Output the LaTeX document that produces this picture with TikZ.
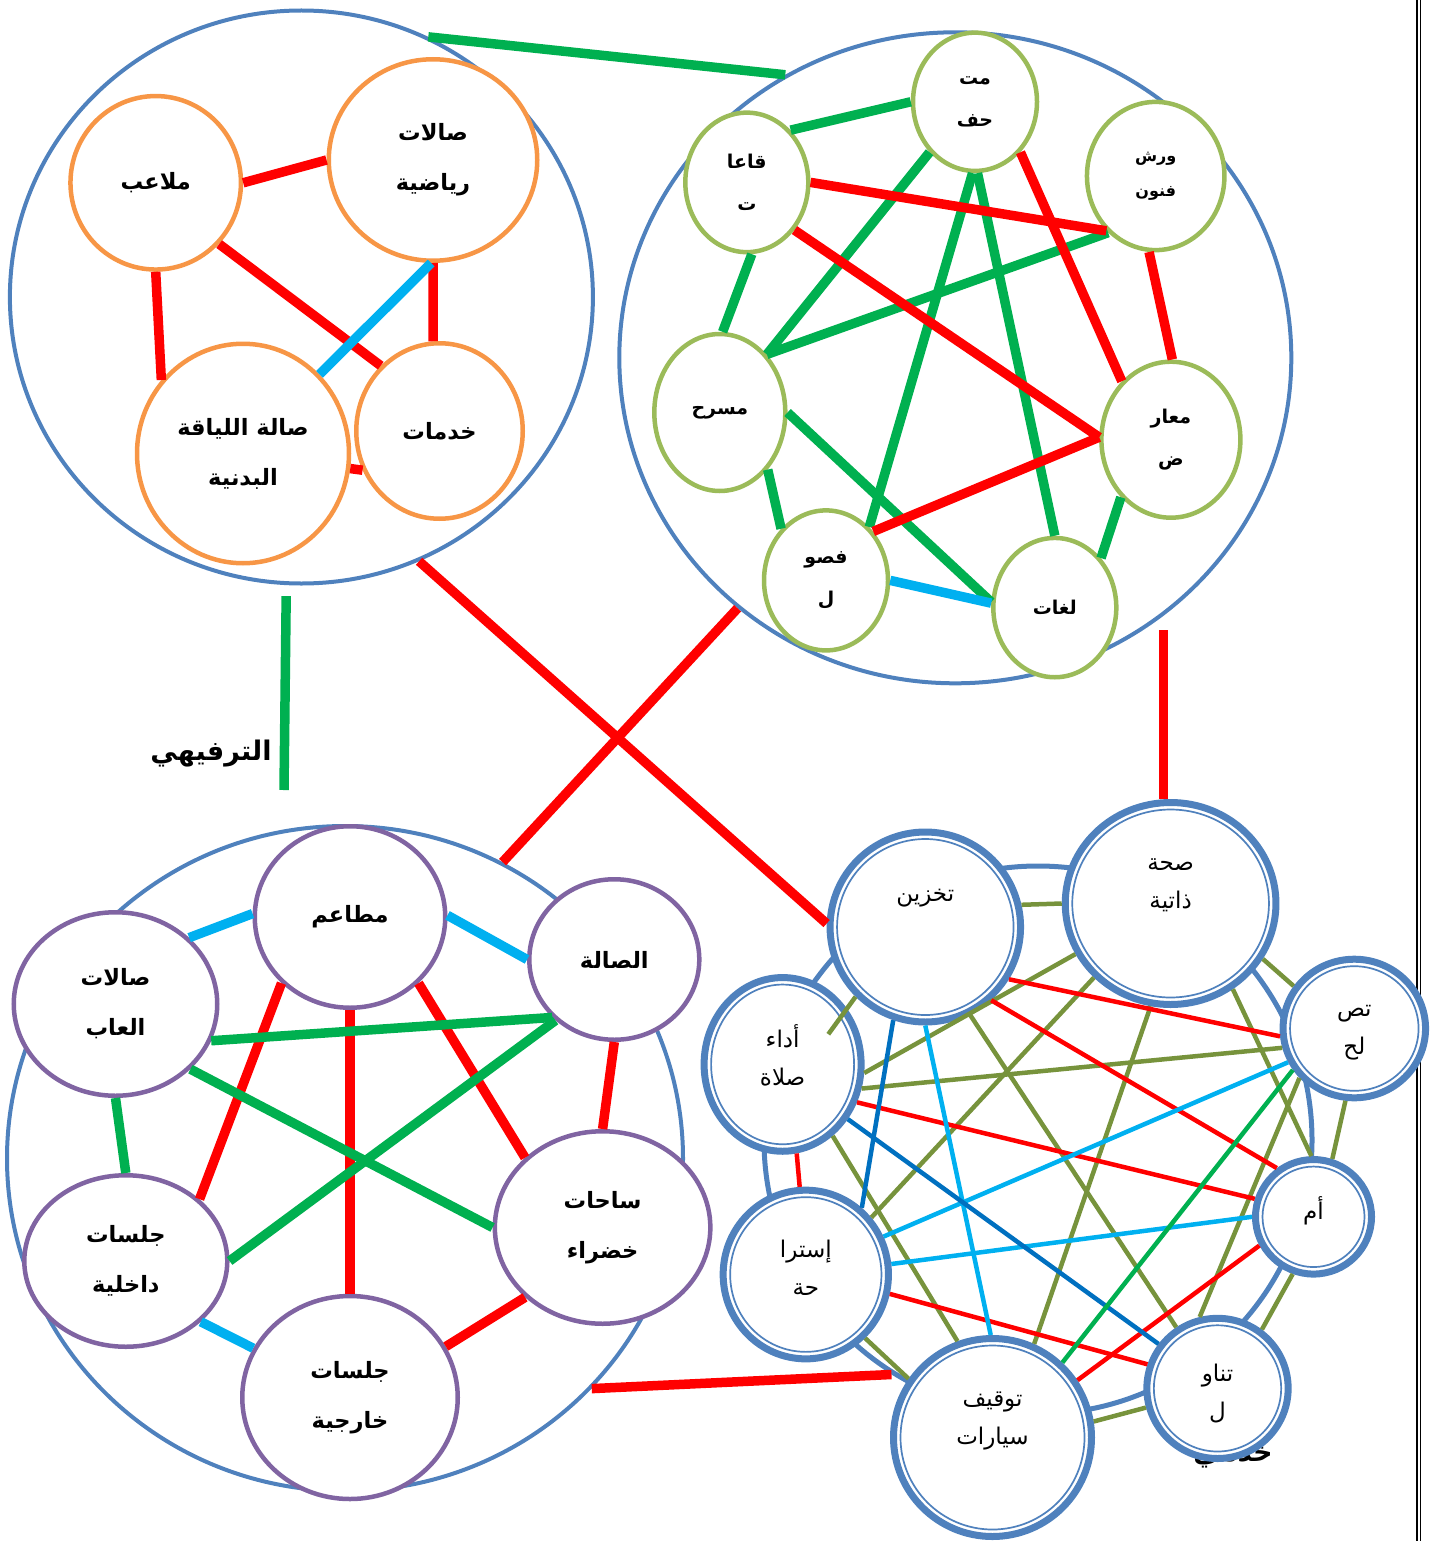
\documentclass[tikz,border=0pt]{standalone}
\usepackage{fontspec}
\usetikzlibrary{shapes.geometric,calc}
\newfontfamily\arabicfont[Script=Arabic]{DejaVu Sans}
\TeXXeTstate=1
\newcommand{\rtltxt}[1]{\beginR#1\endR}
\definecolor{grpblue}{HTML}{4F81BD}
\definecolor{sportorange}{HTML}{F79646}
\definecolor{cultgreen}{HTML}{9BBB59}
\definecolor{socialpurple}{HTML}{8064A2}
\definecolor{linkred}{HTML}{FF0000}
\definecolor{linkgreen}{HTML}{00B050}
\definecolor{linkcyan}{HTML}{00B0F0}
\definecolor{linkolive}{HTML}{77933C}
\definecolor{linknavy}{HTML}{0070C0}

\begin{document}
\begin{tikzpicture}[x=1pt,y=-1pt,
  grp/.style n args={2}{ellipse,draw=grpblue,line width=4pt,inner sep=0pt,minimum width=#1pt,minimum height=#2pt},
  roomnode/.style n args={3}{ellipse,draw=#1,fill=white,line width=4.5pt,inner sep=0pt,align=center,minimum width=#2pt,minimum height=#3pt},
  bigtxt/.style={font=\arabicfont\bfseries\fontsize{22.5}{50}\selectfont},
  midtxt/.style={font=\arabicfont\bfseries\fontsize{19}{42}\selectfont},
  hub/.style n args={2}{ellipse,draw=grpblue,fill=white,line width=7pt,inner sep=0pt,minimum width=#1pt,minimum height=#2pt,
    path picture={\draw[grpblue,line width=1.7pt] (path picture bounding box.center) ellipse ({#1pt/2-7pt} and {#2pt/2-7pt});}},
  hubtxt/.style={anchor=center,align=center,inner sep=0pt,font=\arabicfont\fontsize{23}{38}\selectfont},
  grplabel/.style={font=\arabicfont\bfseries\fontsize{27}{32}\selectfont},
  fatlink/.style={line width=9.5pt},
  thinlink/.style={line width=4.5pt}]
  \useasboundingbox (0,0) rectangle (1440,1541);
  % frame on the right
  \foreach \bx in {1417,1420.3}
    \draw[line width=1.6pt] (\bx,0) -- (\bx,1541);

  % group outlines
  \node[grp={583}{573}] (sport) at (301.4,297) {};
  \node[grp={672}{651}] (culture) at (955.3,357.8) {};
  \node[grp={676}{665}] (social) at (345,1158.5) {};
  \node[circle,draw=grpblue,line width=5pt,minimum size=548pt,inner sep=0pt] (service) at (1038,1140) {};

  \node[grplabel] (sportlab) at (211,754) {\rtltxt{الترفيهي}};
  \node[grplabel] (servlab) at (1233,1458) {\rtltxt{خدمي}};

  % sport
  \foreach \nm/\x/\y/\w/\h/\txt in {%
    fields/155.7/182.8/170.5/173.5/{\rtltxt{ملاعب}},
    gyms/433/160/208.5/201.5/{\rtltxt{صالات}\\\rtltxt{رياضية}},
    fitness/243/453.5/212/219.5/{\rtltxt{صالة اللياقة}\\\rtltxt{البدنية}},
    services/439.5/431/166.5/175.5/{\rtltxt{خدمات}}%
  } {
    \node[roomnode={sportorange}{\w}{\h},bigtxt] (\nm) at (\x,\y) {\txt};
  }

  % culture
  \foreach \nm/\x/\y/\w/\h/\txt in {%
    museum/975/101.8/124/138.3/{\rtltxt{مت}\\\rtltxt{حف}},
    halls/746.8/182.4/123/139.5/{\rtltxt{قاعا}\\\rtltxt{ت}},
    theatre/719.8/412.5/131/157/{\rtltxt{مسرح}},
    exhibits/1170.9/439.7/139/156/{\rtltxt{معار}\\\rtltxt{ض}},
    classes/826/580.4/124/140/{\rtltxt{فصو}\\\rtltxt{ل}},
    langs/1054.8/607.6/123/139.3/{\rtltxt{لغات}}%
  } {
    \node[roomnode={cultgreen}{\w}{\h},midtxt] (\nm) at (\x,\y) {\txt};
  }
  \node[roomnode={cultgreen}{137.5}{148.2},font=\arabicfont\bfseries\fontsize{16}{35}\selectfont] (workshops) at (1155.7,176) {\rtltxt{ورش}\\\rtltxt{فنون}};

  % social
  \foreach \nm/\x/\y/\w/\h/\txt in {%
    restaurants/350/917/190.5/181.5/{\rtltxt{مطاعم}},
    lounge/614.3/959.5/170/160.5/{\rtltxt{الصالة}},
    games/115.5/1004/203.5/183.5/{\rtltxt{صالات}\\\rtltxt{العاب}},
    greens/602.6/1227.5/215.5/192.5/{\rtltxt{ساحات}\\\rtltxt{خضراء}},
    indoor/125.8/1261/203/171.5/{\rtltxt{جلسات}\\\rtltxt{داخلية}},
    outdoor/350/1397.5/215.5/203/{\rtltxt{جلسات}\\\rtltxt{خارجية}}%
  } {
    \node[roomnode={socialpurple}{\w}{\h},bigtxt] (\nm) at (\x,\y) {\txt};
  }

  % service
  \foreach \nm/\x/\y/\w/\h/\ys/\txt in {%
    store/925.3/927/190.5/190/-70/{\rtltxt{تخزين}},
    hygiene/1170.6/903.5/210.7/202/-86/{\rtltxt{صحة}\\\rtltxt{ذاتية}},
    repair/1354.3/1028.5/142.5/138.6/-77/{\rtltxt{تص}\\\rtltxt{لح}},
    security/1313.5/1216.8/116/114.5/-55/{\rtltxt{أم}},
    dining/1217.5/1388.4/141.3/140.2/-79/{\rtltxt{تناو}\\\rtltxt{ل}},
    parking/992.5/1437.5/198/198/-86/{\rtltxt{توقيف}\\\rtltxt{سيارات}},
    rest/805.8/1274.5/165.3/168.7/-81/{\rtltxt{إسترا}\\\rtltxt{حة}},
    prayer/782.6/1064.4/157/173.7/-81/{\rtltxt{أداء}\\\rtltxt{صلاة}}%
  } {
    \node[hub={\w}{\h},label={[hubtxt,yshift=\ys pt]90:{\txt}}] (\nm) at (\x,\y) {};
  }

  % links between groups
  \coordinate (sportend) at (284,790);
  \draw[linkgreen,fatlink] (sport.64.5) -- (culture.121);
  \draw[linkgreen,fatlink,shorten <=11pt] (sport.-93.6) -- (sportend);
  \draw[linkred,fatlink] (culture.-131.7) -- (social.62.1);
  \draw[linkred,fatlink] (sport.-66.2) -- (store.178);
  \draw[linkred,fatlink,shorten >=11pt] (hygiene.94) -- (hygiene.94 |- culture.-52.5);
  \draw[linkred,fatlink] (social.-43.7) -- (service.-122);

  % sport links
  \foreach \a/\b in {fields.0.5/gyms.180, fields.-90/fitness.138.6, fields.-44.7/services.132.9,
      gyms.-90/services.94, fitness.-8.2/services.-153.9}
    \draw[linkred,fatlink] (\a) -- (\b);
  \draw[linkcyan,fatlink] (gyms.-91.2) -- (fitness.46.8);

  % culture links
  \foreach \a/\b in {museum.180/halls.50.5, halls.-86/theatre.88.4, museum.-132.8/theatre.51.2,
      workshops.-130.7/theatre.51.2, museum.-92.5/classes.51.8, museum.-88/langs.90,
      theatre.0/langs.175.6, theatre.-50.6/classes.131.1, exhibits.-131.2/langs.47.2}
    \draw[linkgreen,fatlink] (\a) -- (\b);
  \foreach \a/\b in {halls.0/workshops.-132.6, halls.-45.9/exhibits.178.4, museum.-48.9/exhibits.130.8,
      workshops.-95.2/exhibits.89.3, classes.46.4/exhibits.178.4}
    \draw[linkred,fatlink] (\a) -- (\b);
  \draw[linkcyan,fatlink] (classes.0) -- (langs.176.2);

  % social links
  \foreach \a/\b in {games.42.7/restaurants.178.6, restaurants.1.4/lounge.180, indoor.-39.5/outdoor.153.8}
    \draw[linkcyan,fatlink] (\a) -- (\b);
  \foreach \a/\b in {restaurants.-136.3/indoor.40.4, restaurants.-90/outdoor.90, restaurants.-44/greens.138,
      lounge.-90/greens.90, greens.-138.3/outdoor.28.5}
    \draw[linkred,fatlink] (\a) -- (\b);
  \foreach \a/\b in {games.-21.9/lounge.-137.2, games.-41.9/greens.180, lounge.-134.8/indoor.0, games.-90/indoor.90}
    \draw[linkgreen,fatlink] (\a) -- (\b);

  % service links
  \foreach \a/\b in {store.13.6/hygiene.180, store.-63.2/dining.124.8, hygiene.-152.8/prayer.-6.5,
      hygiene.-136.3/rest.41, hygiene.-101.3/parking.66.8, hygiene.-54.8/security.92,
      hygiene.-31.8/repair.145.9, prayer.-17/repair.195.5, prayer.-55.3/parking.110.2,
      rest.-47/parking.145.2, repair.-138.8/dining.104.2, repair.-97.7/security.72.2,
      security.-110.7/dining.53.3, dining.-165.6/parking.9.5}
    \draw[linkolive,thinlink] (\a) -- (\b);
  \draw[linkolive,thinlink] (store.-135.6) -- ($(prayer)+(45.7,-30.2)$);
  \foreach \a/\b in {store.-48.2/security.127.9, store.-32.8/repair.-174.3, prayer.-27.3/security.163.5,
      prayer.-81.2/rest.94.2, rest.-13.5/dining.161.6, security.-152/parking.34.5}
    \draw[linkred,thinlink] (\a) -- (\b);
  \foreach \a/\b in {store.-90/parking.91.8, rest.26.9/repair.-153.2, rest.7.7/security.180}
    \draw[linkcyan,thinlink] (\a) -- (\b);
  \foreach \a/\b in {store.-109.6/rest.50.9, prayer.-40.3/dining.143}
    \draw[linknavy,thinlink] (\a) -- (\b);
  \draw[linkgreen,thinlink] (repair.-146.1) -- (parking.47.5);
\end{tikzpicture}
\end{document}
